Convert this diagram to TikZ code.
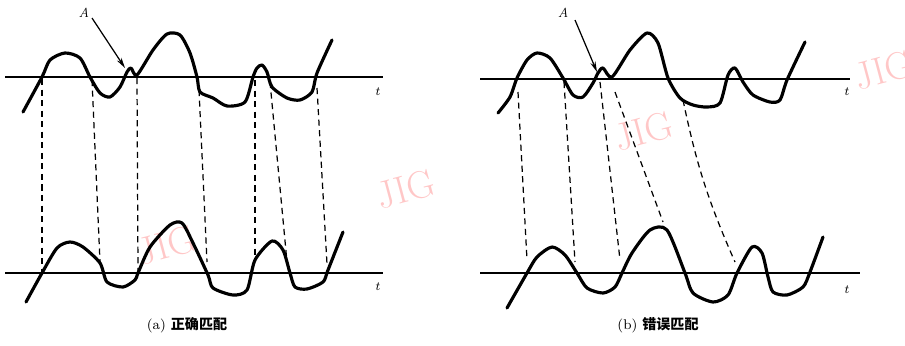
\documentclass[tikz,border=0pt]{standalone}
\usepackage{fontspec}
\usepackage{tikz}
\usetikzlibrary{arrows.meta}
\newfontfamily\cjk{Noto Sans CJK SC}

\begin{document}
\begin{tikzpicture}[x=0.02cm, y=-0.02cm,
    curve/.style={line width=1.8pt, line join=round, line cap=round},
    axis/.style={line width=0.8pt},
    match/.style={line width=0.7pt, dash pattern=on 3.5pt off 2.5pt},
    wmark/.style={text=red!22, font=\fontsize{22}{22}\selectfont, rotate=15, inner sep=0pt},
    lbl/.style={font=\fontsize{7}{8}\selectfont, inner sep=0pt}]
\useasboundingbox (0,0) rectangle (905,345);

% watermarks
\node[wmark] (w1) at (406,189) {JIG};
\node[wmark] (w2) at (167,245) {JIG};
\node[wmark] (w3) at (644,131) {JIG};
\node[wmark] (w4) at (884,70) {JIG};

% (a) top signal
\draw[axis] (5,77) -- (383,77);
\node[lbl] (ta1) at (378,92) {$t$};
\draw[curve] plot[smooth, tension=0.45] coordinates {(23,112) (42,77) (50,60) (65,53) (80,58) (90,77) (100,93) (110,97) (120,87) (127,72) (131,68) (137,75) (153,50) (167,34) (180,35) (190,53) (197,77) (200,92) (213,98) (227,106) (245,102) (253,77) (257,68) (262,65) (267,72) (272,87) (287,98) (300,100) (312,92) (317,73) (332,40)};

% (a) bottom signal
\draw[axis] (5,273) -- (383,273);
\node[lbl] (ta2) at (378,287) {$t$};
\draw[curve] plot[smooth, tension=0.45] coordinates {(26,302) (42,273) (57,248) (70,242) (83,247) (100,263) (107,282) (123,287) (135,280) (138,273) (150,247) (170,225) (182,223) (193,243) (208,275) (213,288) (233,295) (247,290) (255,260) (272,241) (283,250) (290,273) (295,287) (307,289) (323,282) (328,270) (343,232)};

% (a) matching points
\coordinate (a1t) at (42,79);   \coordinate (a1b) at (42,272);
\coordinate (a2t) at (92,80);   \coordinate (a2b) at (100,262);
\coordinate (a3t) at (137,78);  \coordinate (a3b) at (138,272);
\coordinate (a4t) at (199,90);  \coordinate (a4b) at (207,262);
\coordinate (a5t) at (255,80);  \coordinate (a5b) at (255,262);
\coordinate (a6t) at (270,82);  \coordinate (a6b) at (287,262);
\coordinate (a7t) at (317,88);  \coordinate (a7b) at (327,264);
\foreach \i in {1,...,7}
    \draw[match] (a\i t) -- (a\i b);

\node[font=\fontsize{7.5}{8}\selectfont\itshape, inner sep=0pt] (Aa) at (84,13) {A};
\coordinate (Aa0) at (92,18);
\coordinate (Aa1) at (125,68);
\draw[line width=0.7pt, -{Stealth[length=6pt, width=3pt]}] (Aa0) -- (Aa1);

\node[font=\fontsize{8}{9}\selectfont, inner sep=0pt] (capa) at (187,325) {(a) \cjk\bfseries 正确匹配};

% (b) top signal
\draw[axis] (480,79) -- (850,79);
\node[lbl] (tb1) at (847,92) {$t$};
\draw[curve] plot[smooth, tension=0.45] coordinates {(498,113) (510,97) (517,78) (527,60) (537,53) (550,58) (563,78) (573,95) (583,97) (593,83) (598,73) (603,68) (612,77) (630,50) (647,33) (658,43) (668,78) (680,98) (693,105) (707,107) (720,103) (728,75) (735,68) (743,82) (753,95) (770,102) (780,100) (787,80) (805,42)};

% (b) bottom signal
\draw[axis] (480,273) -- (860,273);
\node[lbl] (tb2) at (847,290) {$t$};
\draw[curve] plot[smooth, tension=0.45] coordinates {(507,308) (527,273) (537,257) (552,247) (565,255) (577,273) (587,288) (603,293) (615,287) (622,273) (632,253) (650,230) (667,230) (685,273) (693,293) (713,302) (728,295) (737,273) (752,247) (762,253) (768,277) (773,292) (787,295) (803,287) (810,272) (823,237)};

% (b) matching points
\coordinate (b1t) at (518,92);  \coordinate (b1b) at (527,260);
\coordinate (b2t) at (564,82);  \coordinate (b2b) at (575,262);
\coordinate (b3t) at (600,82);  \coordinate (b3b) at (620,260);
\coordinate (b4t) at (615,92);  \coordinate (b4b) at (663,222);
\coordinate (b5t) at (683,100); \coordinate (b5b) at (735,262);
\foreach \i in {1,...,4}
    \draw[match] (b\i t) -- (b\i b);
\draw[match] (b5t) to[bend right=6] (b5b);

\node[font=\fontsize{7.5}{8}\selectfont\itshape, inner sep=0pt] (Ab) at (563,13) {A};
\coordinate (Ab0) at (575,20);
\coordinate (Ab1) at (597,72);
\draw[line width=0.7pt, -{Stealth[length=6pt, width=3pt]}] (Ab0) -- (Ab1);

\node[font=\fontsize{8}{9}\selectfont, inner sep=0pt] (capb) at (658,325) {(b) \cjk\bfseries 错误匹配};
\end{tikzpicture}
\end{document}
